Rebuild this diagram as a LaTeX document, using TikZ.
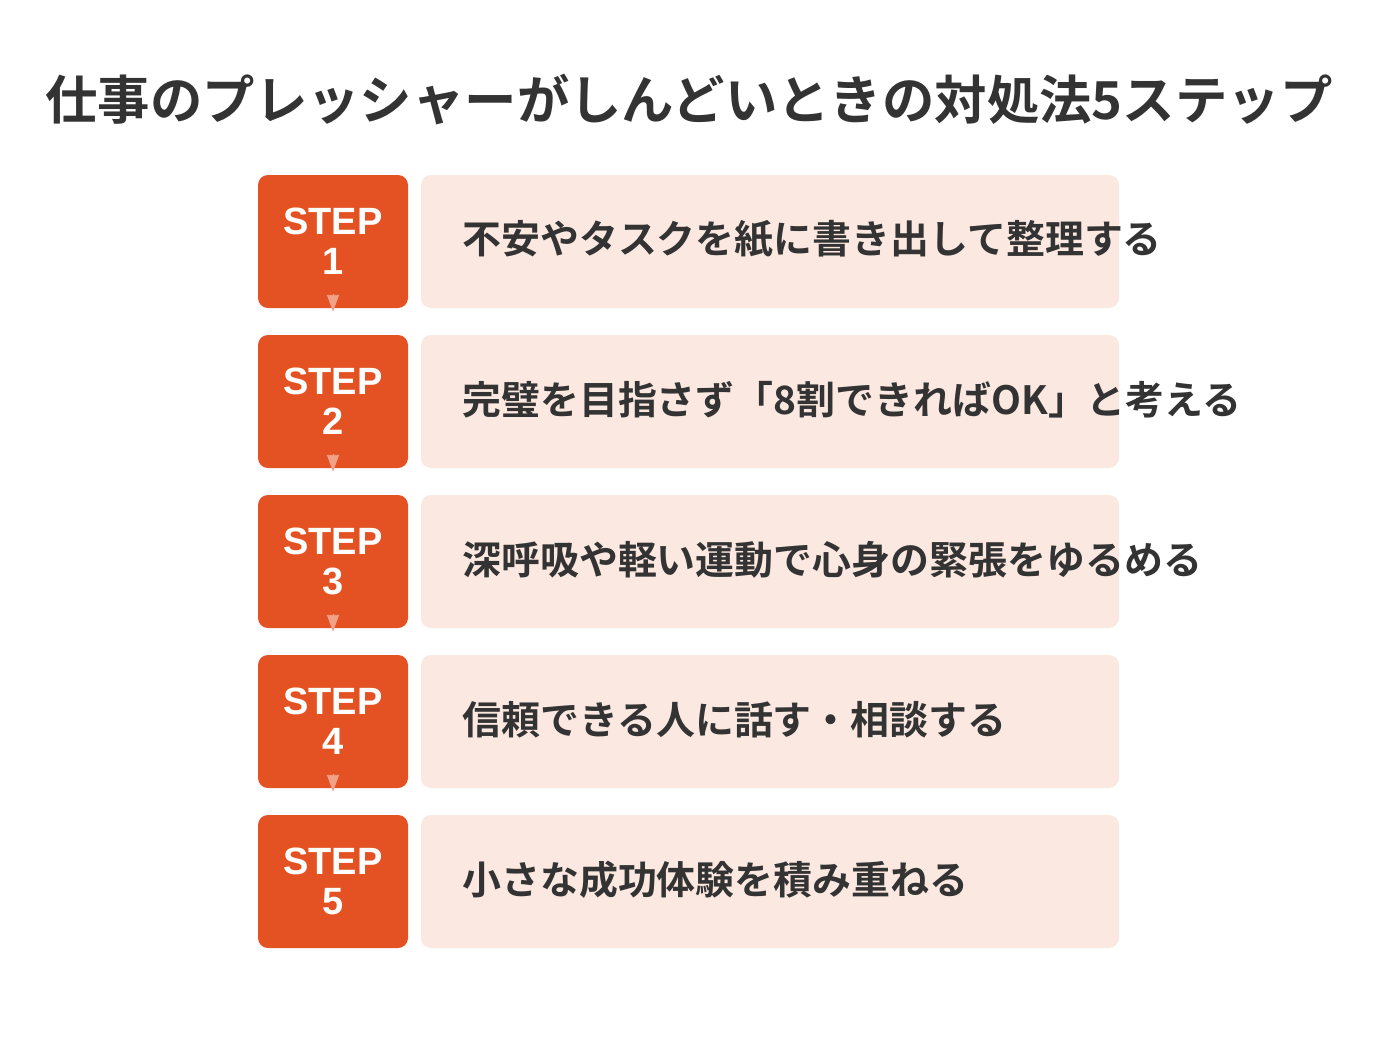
\documentclass[tikz,border=0pt]{standalone}
\usepackage{fontspec}
\newfontfamily\jpbold{Noto Sans CJK JP Bold}
\newfontfamily\latinbold{Liberation Sans Bold}
\usetikzlibrary{arrows.meta}
\definecolor{steporange}{HTML}{E45224}
\definecolor{rowpink}{HTML}{FBE9E1}
\definecolor{tipsalmon}{HTML}{F3A08A}
\definecolor{textdark}{HTML}{333333}
\tikzset{
  stepbox/.style={fill=steporange, rounded corners=7.5pt, minimum width=112.5pt, minimum height=99.75pt, inner sep=0pt, text=white, align=center, font=\latinbold\fontsize{28.5pt}{30pt}\selectfont},
  rowbox/.style={fill=rowpink, rounded corners=7.5pt, minimum width=523.5pt, minimum height=99.75pt, inner sep=0pt},
  rowtext/.style={anchor=west, inner sep=0pt, text=textdark, font=\jpbold\fontsize{29.2pt}{32pt}\selectfont},
  titletext/.style={inner sep=0pt, text=textdark, font=\jpbold\fontsize{39.3pt}{42pt}\selectfont},
  steptip/.style={draw=tipsalmon, line width=0.5pt, -{Triangle[width=9pt,length=12.5pt,fill=tipsalmon]}}
}
\begin{document}
\begin{tikzpicture}[x=0.75pt,y=-0.75pt]
\useasboundingbox[fill=white] (0,0) rectangle (1378,1042);
\node[titletext] (title) at (689,100) {仕事のプレッシャーがしんどいときの対処法5ステップ};
\foreach \i/\t in {1/不安やタスクを紙に書き出して整理する,2/完璧を目指さず「8割できればOK」と考える,3/深呼吸や軽い運動で心身の緊張をゆるめる,4/信頼できる人に話す・相談する,5/小さな成功体験を積み重ねる}{
  \pgfmathsetmacro\cy{241.5+160*(\i-1)}
  \node[rowbox] (r\i) at (770,\cy) {};
  \node[stepbox] (s\i) at (333,\cy) {STEP\\[0pt]\i};
  \node[rowtext] (t\i) at (462,\cy-2) {\t};
}
\foreach \a/\b in {1/2,2/3,3/4,4/5}{
  \draw[steptip] ([yshift=11pt]s\a.south) -- ([yshift=-2.5pt]s\a.south);
}
\end{tikzpicture}
\end{document}
